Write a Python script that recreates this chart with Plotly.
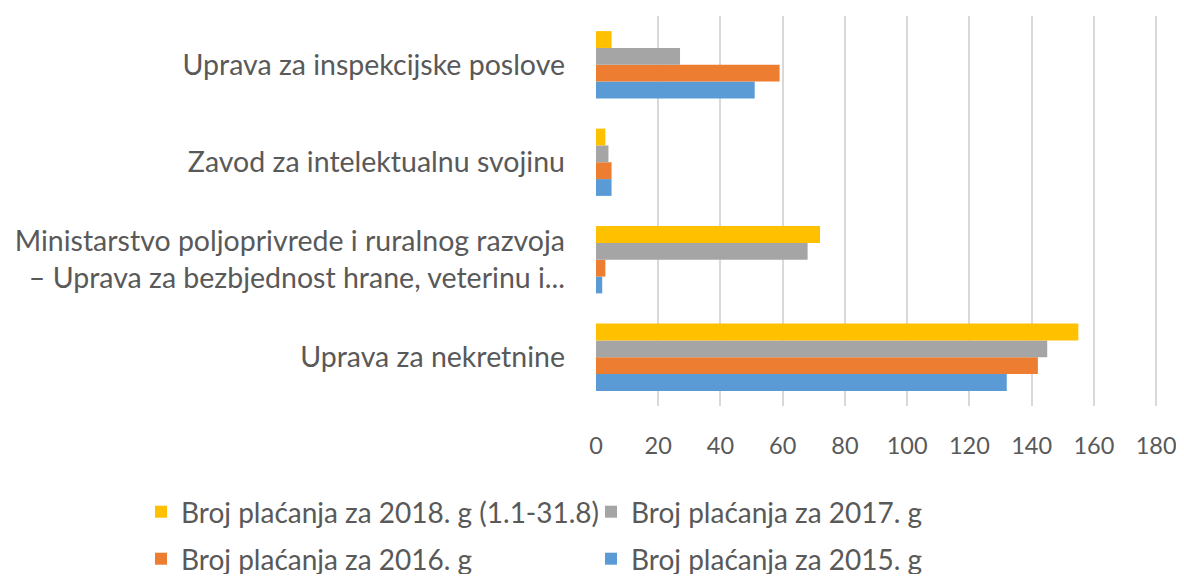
import plotly.graph_objects as go

# Categories listed bottom-to-top (Plotly category axis starts at bottom)
categories = [
    "Uprava za nekretnine",
    "Ministarstvo poljoprivrede i ruralnog razvoja<br>– Uprava za bezbjednost hrane, veterinu i...",
    "Zavod za intelektualnu svojinu",
    "Uprava za inspekcijske poslove",
]
series_names = [
    "Broj plaćanja za 2015. g",
    "Broj plaćanja za 2016. g",
    "Broj plaćanja za 2017. g",
    "Broj plaćanja za 2018. g (1.1-31.8)",
]
values_2015 = [132, 2, 5, 51]
values_2016 = [142, 3, 5, 59]
values_2017 = [145, 68, 4, 27]
values_2018 = [155, 72, 3, 5]
x_ticks = [0, 20, 40, 60, 80, 100, 120, 140, 160, 180]

colors = ["#5B9BD5", "#ED7D31", "#A5A5A5", "#FFC000"]
legend_ids = ["legend4", "legend3", "legend2", "legend"]

# The page body adds an 8px margin on every side; size the figure to fit inside.
W, H = 1168, 566
# legend placement (figure px): left x, centre y
legend_pos = {
    "legend": (133, 504),
    "legend2": (583, 504),
    "legend3": (133, 551),
    "legend4": (583, 551),
}

FONT = "Lato"
TXT = "#595959"
FS = 28.5
FS_LEG = 28

fig = go.Figure()
for name, vals, col, lg in zip(series_names,
                               [values_2015, values_2016, values_2017, values_2018],
                               colors, legend_ids):
    fig.add_trace(go.Bar(
        y=categories, x=vals, name=name, orientation="h",
        marker=dict(color=col, line=dict(width=0)),
        legend=lg,
    ))

legends = {}
for lid, (lx, ly) in legend_pos.items():
    legends[lid] = dict(
        orientation="h", xref="container", yref="container",
        x=lx / W, y=1 - ly / H,
        xanchor="left", yanchor="middle",
        font=dict(family=FONT, size=FS_LEG, color=TXT),
        bgcolor="rgba(0,0,0,0)",
        itemclick=False, itemdoubleclick=False,
    )

fig.update_layout(
    width=W, height=H,
    barmode="group", bargap=0.31, bargroupgap=0,
    plot_bgcolor="white", paper_bgcolor="white",
    margin=dict(l=588, r=18, t=8, b=168, autoexpand=False),
    font=dict(family=FONT, size=FS, color=TXT),
    xaxis=dict(
        range=[0, 180.6], tickvals=x_ticks, ticktext=[str(v) for v in x_ticks],
        showgrid=True, gridcolor="#D9D9D9", gridwidth=2,
        zeroline=False,
        showline=False, ticks="", ticklabelstandoff=23,
        ticklabeloverflow="allow",
        tickfont=dict(family=FONT, size=23.5, color=TXT),
        fixedrange=True, automargin=False,
    ),
    yaxis=dict(
        showgrid=False, showline=False, ticks="", ticklabelstandoff=30,
        tickfont=dict(family=FONT, size=FS, color=TXT),
        fixedrange=True, automargin=False,
    ),
    showlegend=True,
    **legends,
)

fig.write_html("out.html")
